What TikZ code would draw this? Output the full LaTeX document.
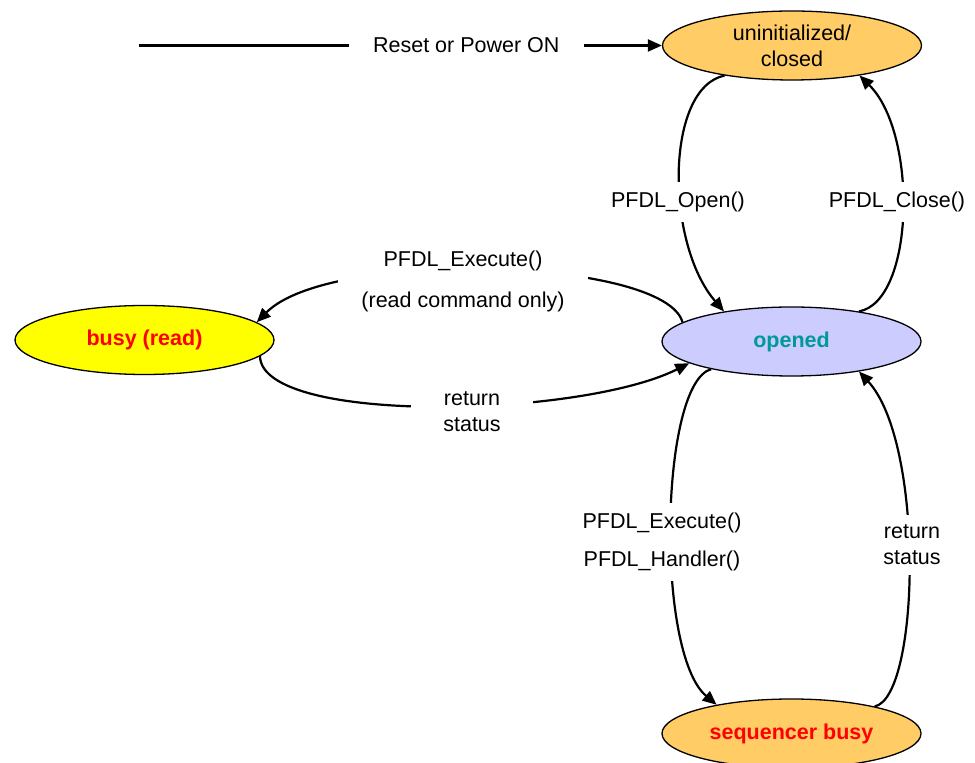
\documentclass[tikz,border=0pt]{standalone}
\usepackage{fontspec}
\setmainfont{Liberation Sans}
\usetikzlibrary{shapes.geometric,arrows.meta}
\definecolor{stOrange}{HTML}{FFCC66}
\definecolor{stLav}{HTML}{CCCCFF}
\definecolor{stYellow}{HTML}{FFFF00}
\definecolor{stTeal}{HTML}{009999}
\definecolor{stRed}{HTML}{FF0000}
\begin{document}
\begin{tikzpicture}[x=1pt,y=1pt,
  state/.style={ellipse, draw, line width=1.3pt, minimum width=259pt, minimum height=69pt, inner sep=0pt, align=center, font=\fontsize{21.5}{26}\selectfont},
  boldstate/.style={state, font=\fontsize{21.5}{26}\selectfont\bfseries},
  conn/.style={line width=2.2pt, -{Triangle[length=14pt,width=12pt]}},
  lbl/.style={fill=white, inner xsep=22pt, inner ysep=10pt, align=center, font=\fontsize{21.5}{26}\selectfont}]
\clip (0,0) rectangle (975,763);
\fill[white] (0,0) rectangle (975,763);
% states
\node[state, fill=stOrange] (uninit) at (792,717.5) {uninitialized/\\closed};
\node[boldstate, fill=stLav, text=stTeal] (opened) at (791.5,421.5) {opened};
\node[boldstate, fill=stYellow, text=stRed] (busy) at (144.5,423) {busy (read)};
\node[boldstate, fill=stOrange, text=stRed] (seq) at (791.5,29.5) {sequencer busy};
% initial transition
\coordinate (start) at (139,717.5);
\draw[conn] (start) -- node[lbl, pos=0.626, inner xsep=24pt] {Reset or Power ON} (uninit.west);
% uninit <-> opened
\draw[conn] (uninit.204) .. controls (665,675) and (665,520) .. (opened.156);
\draw[conn] (opened.24.7) .. controls (915,462) and (918,630) .. (uninit.336.7);
% opened <-> busy
\draw[conn] (opened.170.8) .. controls (665,505) and (330,515) .. (busy.9.8);
\draw[conn] (busy.352.6) .. controls (262,338) and (580,345) .. (opened.192.9);
% opened <-> sequencer busy
\draw[conn] (opened.199.9) .. controls (660,380) and (655,110) .. (seq.159.6);
\draw[conn] (seq.18.2) .. controls (920,66) and (925,320) .. (opened.336.9);
% labels
\node[lbl] (lOpen) at (678,561) {PFDL\_Open()};
\node[lbl] (lClose) at (897,561) {PFDL\_Close()};
\node[lbl, inner xsep=23pt] (lExecR) at (463,481.5) {PFDL\_Execute()\\[15pt](read command only)};
\node[lbl, inner xsep=32pt] (lRetL) at (472,351) {return\\status};
\node[lbl] (lExecS) at (662,221) {PFDL\_Execute()\\[12pt]PFDL\_Handler()};
\node[lbl] (lRetR) at (912,218) {return\\status};
\end{tikzpicture}
\end{document}
